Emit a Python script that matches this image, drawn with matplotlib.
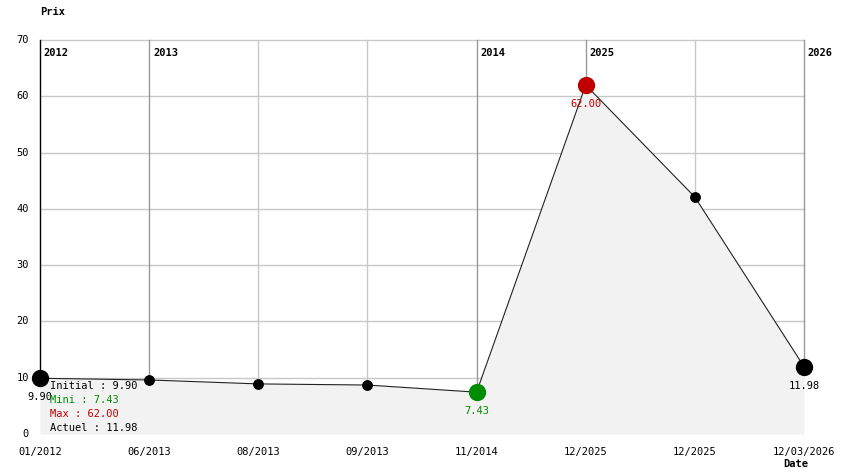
import matplotlib
matplotlib.use("Agg")
import matplotlib.pyplot as plt

dates = ["01/2012", "06/2013", "08/2013", "09/2013", "11/2014", "12/2025", "12/2025", "12/03/2026"]
prices = [9.90, 9.6, 8.9, 8.7, 7.43, 62.00, 42.1, 11.98]
year_marks = [(0, "2012"), (1, "2013"), (4, "2014"), (5, "2025"), (7, "2026")]
y_ticks = [0, 10, 20, 30, 40, 50, 60, 70]

W, H = 844, 474
fig = plt.figure(figsize=(W / 100, H / 100), dpi=100)
L, R, T, B = 40, 804, 40, 434
ax = fig.add_axes([L / W, 1 - B / H, (R - L) / W, (B - T) / H])
ax.set_xlim(0, len(dates) - 1)
ax.set_ylim(0, 70)
ax.axis("off")

mono = "DejaVu Sans Mono"
fs = 7.5
RED = "#c00000"
GREEN = "#008c00"

x = list(range(len(dates)))
# grid
for yv in y_ticks[1:]:
    ax.plot([0, len(dates) - 1], [yv, yv], color="#c8c8c8", lw=1, zorder=1, clip_on=False)
year_idx = [i for i, _ in year_marks]
for i in x:
    if i in year_idx:
        col = "black" if i == 0 else "#999999"
    else:
        col = "#c8c8c8"
    ax.plot([i, i], [prices[i], 70], color=col, lw=1, zorder=1, clip_on=False)
for i, lab in year_marks:
    ax.text(i + 0.035, 68.6, lab, fontsize=fs, fontfamily=mono, fontweight="bold",
            ha="left", va="top", clip_on=False)

# fill
ax.fill_between(x, prices, 0, color="#f2f2f2", zorder=2, lw=0)
ax.plot(x, prices, color="#222222", lw=0.8, zorder=3)

imin = prices.index(min(prices))
imax = prices.index(max(prices))
for i, p in enumerate(prices):
    if i == imin:
        c, s = GREEN, 16
    elif i == imax:
        c, s = RED, 16
    elif i in (0, len(prices) - 1):
        c, s = "black", 16
    else:
        c, s = "black", 10
    ax.plot(i, p, "o", color=c, markersize=s * 0.78, zorder=4, clip_on=False, mec="none")

ax.text(0, prices[0] - 3.3, f"{prices[0]:.2f}", fontsize=fs, fontfamily=mono, ha="center", va="center", zorder=5)
ax.text(imin, prices[imin] - 3.4, f"{prices[imin]:.2f}", fontsize=fs, fontfamily=mono, ha="center", va="center", color=GREEN, zorder=5)
ax.text(imax, prices[imax] - 3.3, f"{prices[imax]:.2f}", fontsize=fs, fontfamily=mono, ha="center", va="center", color=RED, zorder=5)
ax.text(len(prices) - 1, prices[-1] - 3.4, f"{prices[-1]:.2f}", fontsize=fs, fontfamily=mono, ha="center", va="center", zorder=5)

# summary
summary = [(f"Initial : {prices[0]:.2f}", "black"), (f"Mini : {min(prices):.2f}", GREEN),
           (f"Max : {max(prices):.2f}", RED), (f"Actuel : {prices[-1]:.2f}", "black")]
for k, (txt, c) in enumerate(summary):
    fig.text(50 / W, 1 - (386 + 14 * k) / H, txt, fontsize=fs, fontfamily=mono, color=c, ha="left", va="center")

# y tick labels
for yv in y_ticks:
    ax.text(-0.1, yv, str(yv), fontsize=fs, fontfamily=mono, ha="right", va="center", clip_on=False)
# x tick labels
for i, d in enumerate(dates):
    fig.text((L + i * (R - L) / (len(dates) - 1)) / W, 1 - 452 / H, d, fontsize=fs, fontfamily=mono, ha="center", va="center")

fig.text(40 / W, 1 - 12 / H, "Prix", fontsize=fs, fontfamily=mono, fontweight="bold", ha="left", va="center")
fig.text(783 / W, 1 - 464 / H, "Date", fontsize=fs, fontfamily=mono, fontweight="bold", ha="left", va="center")

fig.savefig("out.png", dpi=100)
